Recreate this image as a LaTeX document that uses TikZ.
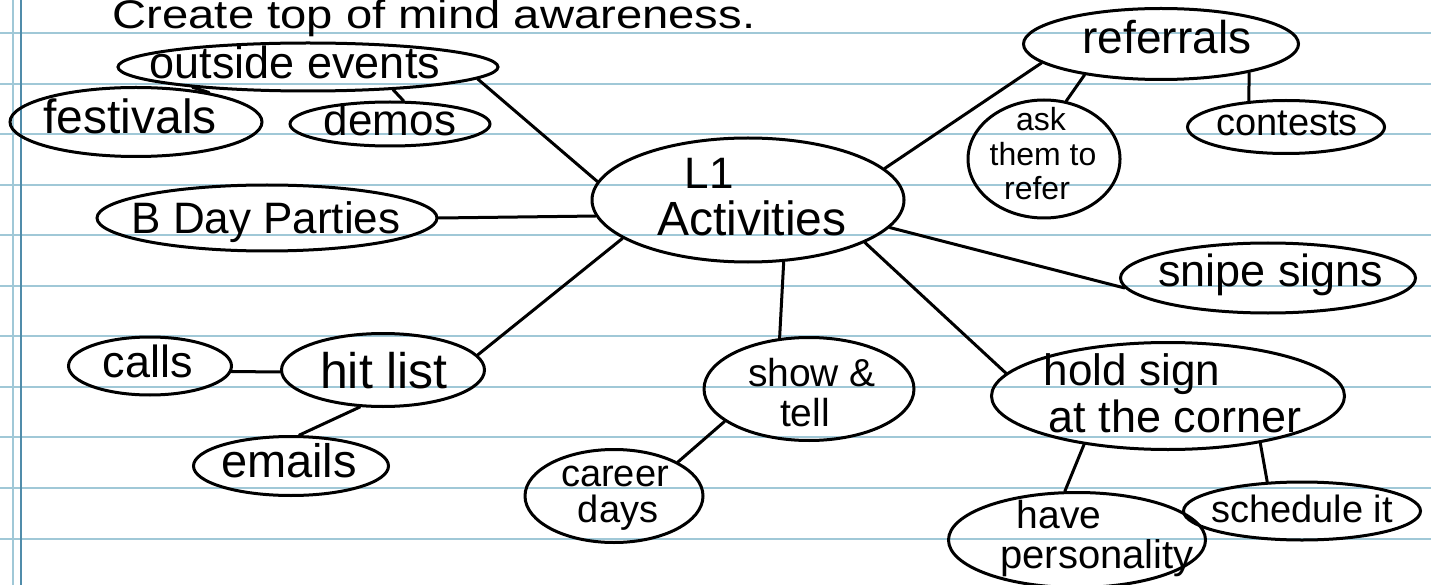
\documentclass[tikz,border=0pt]{standalone}
\usepackage{fontspec}
\setmainfont{Liberation Sans}
\usetikzlibrary{shapes.geometric}
\definecolor{rulecol}{RGB}{160,200,215}
\definecolor{margincol}{RGB}{80,140,170}
\begin{document}
\begin{tikzpicture}[x=1pt,y=-1pt,
  bub/.style={draw, ellipse, inner sep=0pt, line width=3pt},
  link/.style={draw, line width=3pt, line cap=round},
  hw/.style={inner sep=0pt, anchor=base, font=\fontsize{#1}{#1}\selectfont},
  rule/.style={draw=rulecol, line width=2pt},
  margin/.style={draw=margincol, line width=1.3pt}]
\useasboundingbox (0,0) rectangle (1431,585);
% ruled paper
\foreach \k in {0,...,10} \draw[rule] (0,33+50.55*\k) -- (1431,33+50.55*\k);
\draw[rule] (13,0) -- (13,585);
\draw[margin] (21,0) -- (21,585);
% title
\node[hw=40] (title) at (434,29) {\scalebox{1.18}[1]{Create top of mind awareness.}};
% bubbles
\node[bub, minimum width=312, minimum height=124] (L1) at (748,200) {};
\node[bub, minimum width=380, minimum height=48] (outs) at (308,67) {};
\node[bub, minimum width=252, minimum height=69] (fest) at (136,122) {};
\node[bub, minimum width=200, minimum height=44] (demos) at (390,124) {};
\node[bub, minimum width=340, minimum height=66] (bday) at (267,218) {};
\node[bub, minimum width=163, minimum height=58] (calls) at (150,366) {};
\node[bub, minimum width=203, minimum height=73] (hit) at (383,370) {};
\node[bub, minimum width=195, minimum height=59] (emails) at (291,466) {};
\node[bub, minimum width=210, minimum height=103] (show) at (809,389) {};
\node[bub, minimum width=178, minimum height=93] (career) at (614,496) {};
\node[bub, minimum width=275, minimum height=71] (ref) at (1161,44) {};
\node[bub, minimum width=152, minimum height=118] (ask) at (1044,159) {};
\node[bub, minimum width=197, minimum height=53] (cont) at (1286,127) {};
\node[bub, minimum width=295, minimum height=70] (snipe) at (1268,278) {};
\node[bub, minimum width=353, minimum height=107] (hold) at (1168,396) {};
\node[bub, minimum width=257, minimum height=95] (have) at (1077,540) {};
\node[bub, minimum width=237, minimum height=58] (sched) at (1302,511) {};
% texts
\node[hw=44] (tL1) at (709,189) {L1};
\node[hw=48] (tact) at (752,236) {Activities};
\node[hw=45] (touts) at (295,79) {outside events};
\node[hw=48] (tfest) at (130,134) {festivals};
\node[hw=44] (tdemos) at (390,136) {demos};
\node[hw=44] (tbday) at (266,234) {B Day Parties};
\node[hw=50] (thit) at (384,388) {hit list};
\node[hw=45] (tcalls) at (148,377) {calls};
\node[hw=47] (temails) at (289,477) {emails};
\node[hw=39] (tshow) at (812,386) {show \&};
\node[hw=39] (ttell) at (805,426) {tell};
\node[hw=38] (tcareer) at (615,486) {career};
\node[hw=38] (tdays) at (618,522) {days};
\node[hw=46] (tref) at (1167,54) {referrals};
\node[hw=32] (task) at (1041,131) {ask};
\node[hw=32] (tthem) at (1043,166) {them to};
\node[hw=32] (trefer) at (1037,200) {refer};
\node[hw=38] (tcont) at (1287,136) {contests};
\node[hw=45] (tsnipe) at (1271,287) {snipe signs};
\node[hw=44] (thold) at (1132,385) {hold sign};
\node[hw=45] (tcorner) at (1175,432) {at the corner};
\node[hw=39] (thave) at (1059,528) {have};
\node[hw=40] (tpers) at (1097,568) {personality};
\node[hw=38] (tsched) at (1302,522) {schedule it};
% connectors
\draw[link] (outs.-4) -- (L1.173);
\draw[link] (outs.190) -- (fest.22);
\draw[link] (outs.-15) -- (demos.60);
\draw[link] (bday.east) -- (L1.186);
\draw[link] (L1.197) -- (hit.9);
\draw[link] (calls.-4) -- (hit.181);
\draw[link] (hit.238) -- (emails.75);
\draw[link] (L1.-60) -- (show.120);
\draw[link] (show.201) -- (career.28);
\draw[link] (L1.-20) -- (hold.172);
\draw[link] (hold.210) -- (have.104);
\draw[link] (hold.-27) -- (sched.140);
\draw[link] (L1.-11) -- (snipe.184);
\draw[link] (L1.13) -- (ref.189);
\draw[link] (ref.202) -- (ask.69);
\draw[link] (ref.-18) -- (cont.145);
\end{tikzpicture}
\end{document}
